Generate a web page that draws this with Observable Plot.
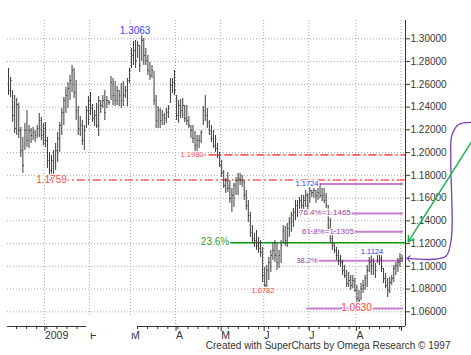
<!DOCTYPE html>
<html><head><meta charset="utf-8">
<script src="https://cdn.jsdelivr.net/npm/d3@7"></script>
<script src="https://cdn.jsdelivr.net/npm/@observablehq/plot@0.6"></script>
<style>
html,body{margin:0;padding:0;background:#fff;}
#chart{width:471px;height:355px;overflow:hidden;}
</style></head><body><div id="chart"></div>
<script>
// Daily bars (Dec 2008 - Sep 2009), index order
const high = [
1.2740,1.2660,1.2546,1.2502,1.2476,1.2432,1.2221,1.2133,1.2256,1.2370,
1.2238,1.2212,1.2221,1.2194,1.2238,1.2344,1.2309,1.2256,1.2264,1.2133,
1.2001,1.1975,1.2018,1.2080,1.2177,1.2264,1.2388,1.2484,1.2572,1.2616,
1.2678,1.2766,1.2740,1.2634,1.2405,1.2317,1.2282,1.2238,1.2405,1.2493,
1.2528,1.2423,1.2370,1.2432,1.2493,1.2458,1.2502,1.2546,1.2493,1.2458,
1.2669,1.2651,1.2625,1.2581,1.2546,1.2607,1.2625,1.2581,1.2651,1.2740,
1.2915,1.2977,1.2985,1.2977,1.2941,1.3063,1.3003,1.2915,1.2854,1.2792,
1.2766,1.2713,1.2502,1.2405,1.2388,1.2370,1.2344,1.2388,1.2414,1.2651,
1.2651,1.2722,1.2502,1.2458,1.2467,1.2476,1.2414,1.2414,1.2317,1.2238,
1.2238,1.2186,1.2150,1.2150,1.2194,1.2405,1.2502,1.2388,1.2282,1.2238,
1.2194,1.2150,1.2080,1.2001,1.1931,1.1843,1.1773,1.1825,1.1755,1.1685,
1.1729,1.1781,1.1817,1.1817,1.1799,1.1755,1.1667,1.1579,1.1474,1.1359,
1.1289,1.1315,1.1254,1.1227,1.1166,1.0990,1.1008,1.1078,1.1140,1.1210,
1.1227,1.1201,1.1140,1.1227,1.1359,1.1350,1.1377,1.1430,1.1474,1.1509,
1.1579,1.1579,1.1605,1.1623,1.1623,1.1667,1.1641,1.1693,1.1667,1.1685,
1.1667,1.1685,1.1724,1.1685,1.1685,1.1641,1.1535,1.1421,1.1271,1.1201,
1.1166,1.1140,1.1096,1.1052,1.1008,1.0964,1.0946,1.0920,1.0920,1.0893,
1.0832,1.0788,1.0849,1.0876,1.0920,1.1008,1.1078,1.1096,1.1069,1.1025,
1.1124,1.1122,1.1096,1.0981,1.0937,1.0893,1.0902,1.0920,1.1008,1.1034,
1.1069,1.1113,1.1096];
const low = [
1.2502,1.2484,1.2264,1.2168,1.2150,1.2124,1.1957,1.1817,1.2018,1.2045,
1.2036,1.2080,1.2106,1.2089,1.2124,1.2133,1.2106,1.2062,1.2045,1.1860,
1.1790,1.1764,1.1759,1.1843,1.1913,1.2001,1.2150,1.2238,1.2344,1.2388,
1.2458,1.2528,1.2476,1.2282,1.2150,1.2141,1.2062,1.2018,1.2212,1.2238,
1.2326,1.2264,1.2229,1.2212,1.2141,1.2344,1.2388,1.2282,1.2388,1.2414,
1.2458,1.2414,1.2405,1.2414,1.2405,1.2388,1.2405,1.2476,1.2405,1.2607,
1.2740,1.2766,1.2740,1.2827,1.2704,1.2801,1.2766,1.2766,1.2678,1.2634,
1.2651,1.2414,1.2212,1.2212,1.2212,1.2238,1.2238,1.2256,1.2300,1.2432,
1.2520,1.2502,1.2282,1.2256,1.2300,1.2300,1.2264,1.2238,1.2212,1.2124,
1.2080,1.2010,1.1992,1.2036,1.2080,1.2238,1.2273,1.2212,1.2150,1.2089,
1.2036,1.2001,1.1948,1.1869,1.1781,1.1685,1.1641,1.1650,1.1553,1.1474,
1.1518,1.1623,1.1623,1.1711,1.1694,1.1579,1.1491,1.1386,1.1254,1.1201,
1.1166,1.1140,1.1113,1.1078,1.0859,1.0782,1.0788,1.0876,1.0946,1.1052,
1.1034,1.0964,1.0981,1.1025,1.1201,1.1175,1.1166,1.1254,1.1298,1.1342,
1.1403,1.1430,1.1465,1.1491,1.1491,1.1518,1.1474,1.1553,1.1605,1.1597,
1.1553,1.1579,1.1597,1.1570,1.1553,1.1509,1.1298,1.1201,1.1140,1.1113,
1.1052,1.1008,1.0990,1.0920,1.0893,1.0814,1.0814,1.0788,1.0805,1.0770,
1.0682,1.0630,1.0700,1.0761,1.0788,1.0814,1.0946,1.0920,1.0920,1.0893,
1.1025,1.1008,1.0946,1.0849,1.0805,1.0726,1.0761,1.0832,1.0858,1.0920,
1.0946,1.0990,1.1034];
const close = [
1.2546,1.2634,1.2326,1.2212,1.2423,1.2194,1.2018,1.1887,1.2194,1.2106,
1.2194,1.2150,1.2177,1.2150,1.2212,1.2282,1.2150,1.2212,1.2106,1.1931,
1.1843,1.1931,1.1799,1.2018,1.2124,1.2238,1.2353,1.2458,1.2502,1.2564,
1.2634,1.2722,1.2528,1.2370,1.2212,1.2238,1.2106,1.2194,1.2370,1.2458,
1.2388,1.2300,1.2326,1.2238,1.2458,1.2414,1.2458,1.2353,1.2458,1.2440,
1.2616,1.2502,1.2458,1.2546,1.2502,1.2458,1.2502,1.2546,1.2634,1.2722,
1.2854,1.2898,1.2810,1.2941,1.2766,1.2985,1.2854,1.2810,1.2722,1.2678,
1.2722,1.2458,1.2282,1.2370,1.2282,1.2326,1.2300,1.2353,1.2388,1.2590,
1.2616,1.2546,1.2326,1.2414,1.2370,1.2414,1.2300,1.2282,1.2238,1.2194,
1.2124,1.2062,1.2106,1.2106,1.2177,1.2370,1.2326,1.2264,1.2194,1.2124,
1.2062,1.2036,1.1975,1.1887,1.1825,1.1711,1.1755,1.1685,1.1597,1.1623,
1.1711,1.1755,1.1773,1.1755,1.1738,1.1623,1.1535,1.1447,1.1298,1.1245,
1.1227,1.1184,1.1157,1.1122,1.0920,1.0832,1.0964,1.1034,1.1096,1.1140,
1.1096,1.1034,1.1096,1.1184,1.1315,1.1227,1.1333,1.1386,1.1447,1.1474,
1.1535,1.1491,1.1579,1.1535,1.1579,1.1623,1.1535,1.1667,1.1649,1.1667,
1.1623,1.1649,1.1623,1.1623,1.1579,1.1535,1.1333,1.1245,1.1184,1.1140,
1.1096,1.1052,1.1034,1.0964,1.0920,1.0849,1.0876,1.0832,1.0876,1.0788,
1.0717,1.0700,1.0805,1.0832,1.0893,1.0964,1.1034,1.1008,1.1034,1.0964,
1.1096,1.1069,1.0981,1.0893,1.0832,1.0788,1.0858,1.0893,1.0981,1.1008,
1.1034,1.1069,1.1069];

// month boundaries (index of first bar) and labels
const monthStart = [18, 40, 60, 82, 104, 125, 147, 170, 192];
const monthLabels = ["2009", "F", "M", "A", "M", "J", "J", "A", ""];
const yTicks = [1.06, 1.08, 1.10, 1.12, 1.14, 1.16, 1.18, 1.20, 1.22, 1.24, 1.26, 1.28, 1.30];

// annotation levels
const redLevels = [1.1980, 1.1759];
const redStart = [90, 18];
const greenLevel = 1.1207;
const greenStart = 101.5;
const fibLevels = [1.1724, 1.1465, 1.1305, 1.1048, 1.0630];
const fibRange = [145.5, 192.7];

const bars = high.map((h, i) => ({i, high: h, low: low[i], close: close[i]}));
const xDomain = [-0.5, 193.7];
const yDomain = [1.0471, 1.3161];

const grid = {stroke: "#a8a8a8", strokeWidth: 1, strokeDasharray: "1,2"};
const font = "'Liberation Sans', Arial, sans-serif";

const labels = [
  {x: 62, y: 1.3063, t: "1.3063", c: "#3b3bff", s: 10, a: "middle", dy: -5},
  {x: 89.8, y: 1.1980, t: "1.1980", c: "#ff4a4a", s: 7.5, a: "end", dy: 0},
  {x: 21.2, y: 1.1759, t: "1.1759", c: "#ff4a4a", s: 10, a: "middle", dy: 7},
  {x: 101, y: 1.1207, t: "23.6%", c: "#2ea02e", s: 10, a: "end", dy: 0},
  {x: 124.4, y: 1.0782, t: "1.0782", c: "#ff3030", s: 7.5, a: "middle", dy: 7.5},
  {x: 145.9, y: 1.1724, t: "1.1724", c: "#3030ff", s: 7.5, a: "start", dy: -9},
  {x: 154.6, y: 1.1465, t: "76.4%=1.1465", c: "#9a3aa6", s: 8, a: "start", dy: -4.5},
  {x: 156.1, y: 1.1305, t: "61.8%=1.1305", c: "#9a3aa6", s: 8, a: "start", dy: -4.5},
  {x: 145.9, y: 1.1048, t: "38.2%", c: "#9a3aa6", s: 7.5, a: "start", dy: -3},
  {x: 177.6, y: 1.1124, t: "1.1124", c: "#3030ff", s: 7.5, a: "middle", dy: -5},
  {x: 170, y: 1.0630, t: "1.0630", c: "#ff4040", s: 10, a: "middle", dy: 6.5}
];

const purpleCurve = [
  {x: 225.9, y: 1.2265}, {x: 219.5, y: 1.2245}, {x: 216.3, y: 1.2150},
  {x: 215.8, y: 1.1931}, {x: 216.1, y: 1.1250}, {x: 213.5, y: 1.1090},
  {x: 207.0, y: 1.1062}, {x: 195.1, y: 1.1069}
];
const greenArrow = [{x1: 226, y1: 1.2097, x2: 195.0, y2: 1.1214}];
// blank patch over the axis under F / M (as in the original print)
const axisGap = [{x1: 38.1, x2: 62.9, y1: 1.0560, y2: 1.0410}];

const chart = Plot.plot({
  width: 471, height: 355,
  marginLeft: 7, marginRight: 66, marginTop: 20, marginBottom: 29,
  x: {domain: xDomain, axis: null},
  y: {domain: yDomain, axis: null},
  style: {fontFamily: font, background: "#fff", overflow: "visible"},
  marks: [
    Plot.ruleY(yTicks, grid),
    Plot.ruleX(monthStart.map(s => s - 0.5), grid),
    Plot.ruleY(redLevels, {y: d => d, x1: (d, i) => redStart[i], x2: xDomain[1], stroke: "#ff5a5a", strokeWidth: 1.6, strokeDasharray: "8,3,2,3"}),
    Plot.ruleY([greenLevel], {x1: greenStart, x2: xDomain[1], stroke: "#13a013", strokeWidth: 1.6}),
    Plot.ruleY(fibLevels, {x1: fibRange[0], x2: fibRange[1], stroke: "#c57fcc", strokeWidth: 2}),
    Plot.ruleX(bars, {x: "i", y1: "low", y2: "high", stroke: "#3a3a3a", strokeWidth: 1}),
    Plot.link(bars, {x1: "i", x2: d => d.i + 0.55, y1: "close", y2: "close", stroke: "#3a3a3a", strokeWidth: 1}),
    Plot.text(labels, {x: "x", y: "y", text: "t", fill: "c", fontSize: d => d.s, textAnchor: "a", dy: "dy", lineAnchor: "middle", stroke: "#fff", strokeWidth: 2.5}),
    Plot.ruleX([xDomain[1]], {stroke: "#333", strokeWidth: 1}),
    Plot.ruleY([yDomain[0]], {stroke: "#333", strokeWidth: 1}),
    Plot.axisY({anchor: "right", ticks: yTicks, tickFormat: d3.format(".5f"), tickSize: 4, tickPadding: 1, fontSize: 10, color: "#383838"}),
    Plot.axisX({ticks: d3.range(3.9, 193, 4.92), tickSize: 3, tickFormat: () => "", color: "#333"}),
    Plot.axisX({ticks: monthStart.map(s => s - 0.5), tickSize: 5, tickPadding: 0, tickFormat: (d, i) => monthLabels[i], textAnchor: "start", dx: 0.5, fontSize: 10.5, color: "#333"}),
    Plot.rect(axisGap, {x1: "x1", x2: "x2", y1: "y1", y2: "y2", fill: "#fff"}),
    Plot.line(purpleCurve, {x: "x", y: "y", curve: "catmull-rom", stroke: "#7b3fb5", strokeWidth: 1.3, markerEnd: "arrow"}),
    Plot.arrow(greenArrow, {x1: "x1", y1: "y1", x2: "x2", y2: "y2", stroke: "#19b34a", strokeWidth: 1.4, headLength: 7}),
    Plot.text(["Created with SuperCharts by Omega Research \u00a9 1997"], {text: d => d, frameAnchor: "bottom-right", dx: 45, dy: 19, textAnchor: "end", lineAnchor: "middle", fontSize: 10, fill: "#333"})
  ]
});
document.getElementById("chart").appendChild(chart);
</script>
</body></html>
